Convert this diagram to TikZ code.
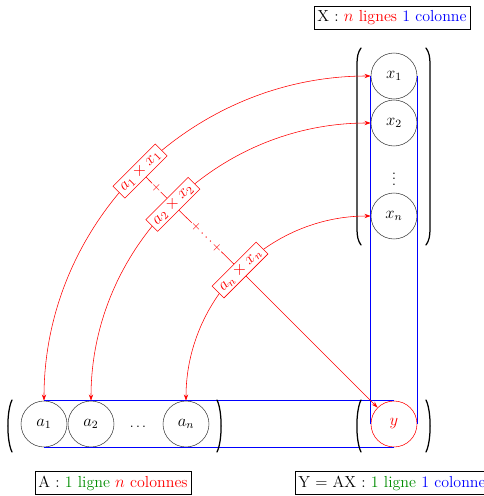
\documentclass[tikz,border=0pt]{standalone}
\usetikzlibrary{arrows.meta}
\definecolor{myblue}{RGB}{0,0,255}
\definecolor{myred}{RGB}{255,0,0}
\definecolor{mygreen}{RGB}{0,140,0}
\begin{document}
\begin{tikzpicture}[x=0.72pt,y=0.72pt,
 cell/.style={circle,draw=black!75,line width=0.4pt,minimum size=33.1pt,inner sep=0pt,font=\fontsize{11.5}{13}\selectfont},
 paren/.style={draw=black,line width=0.9pt,line cap=round},
 prod/.style={draw=myred,fill=white,text=myred,rotate=45,inner sep=1.6pt,inner xsep=3pt,font=\fontsize{12}{13}\selectfont},
 plus/.style={fill=white,text=myred,inner sep=0.6pt,rotate=-45,font=\small},
 arr/.style={draw=myred,line width=0.4pt,{Stealth[length=4.5pt,width=3pt]}-{Stealth[length=4.5pt,width=3pt]}},
 blueline/.style={color=myblue,line width=0.8pt},
 lbl/.style={draw=black,line width=0.5pt,inner sep=3pt,inner xsep=2.5pt,font=\fontsize{11.5}{14}\selectfont}]
\useasboundingbox (0,0) rectangle (484,496);
% column X
\node[cell] (x1) at (394,420) {$x_1$};
\node[cell] (x2) at (394,373) {$x_2$};
\node (xd) at (394,321) {$\vdots$};
\node[cell] (xn) at (394,280) {$x_n$};
% row A
\node[cell] (a1) at (44,72) {$a_1$};
\node[cell] (a2) at (91,72) {$a_2$};
\node (ad) at (138,69) {$\dots$};
\node[cell] (an) at (186,72) {$a_n$};
% Y
\node[cell,draw=myred,text=myred] (y) at (394,72) {$y$};
% blue guide lines
\draw[blueline] (x1.west) -- (y.west) (x1.east) -- (y.east)
  (a1.north) -- (y.north) (a1.south) -- (y.south);
% parentheses column
\draw[paren] (361,448) .. controls (358,444) and (357,439) .. (357,432) -- (357,267) .. controls (357,260) and (358,255) .. (361,251);
\draw[paren] (426,448) .. controls (429,444) and (430,439) .. (430,432) -- (430,267) .. controls (430,260) and (429,255) .. (426,251);
% parentheses row A
\draw[paren] (12,96) .. controls (6.5,85) and (6.5,55) .. (12,44);
\draw[paren] (217,96) .. controls (222.5,85) and (222.5,55) .. (217,44);
% parentheses Y
\draw[paren] (361,96) .. controls (355.5,85) and (355.5,55) .. (361,44);
\draw[paren] (426,96) .. controls (431.5,85) and (431.5,55) .. (426,44);
% arcs
\draw[arr] (a1.north) .. controls +(0,179.5) and +(-179.5,0) .. (x1.west) node[prod,pos=0.5] (p1) {$a_1\times x_1$};
\draw[arr] (a2.north) .. controls +(0,153.5) and +(-154.6,0) .. (x2.west) node[prod,pos=0.5] (p2) {$a_2\times x_2$};
\draw[arr] (an.north) .. controls +(0,102.2) and +(-102.2,0) .. (xn.west) node[prod,pos=0.5] (p3) {$a_n\times x_n$};
% diagonal
\draw[draw=myred,line width=0.4pt] (p1) -- node[plus] {$+$} (p2);
\draw[draw=myred,line width=0.4pt] (p2) -- node[plus] {$+\cdots+$} (p3);
\draw[draw=myred,line width=0.4pt,-{Stealth[length=4.5pt,width=3pt]}] (p3) -- (y.135);
% labels
\node[lbl] (lx) at (392,478) {X : \textcolor{myred}{$n$ lignes} \textcolor{myblue}{1 colonne}};
\node[lbl] (la) at (113,13) {A : \textcolor{mygreen}{1 ligne} \textcolor{myred}{$n$ colonnes}};
\node[lbl] (ly) at (392,13) {Y = AX : \textcolor{mygreen}{1 ligne} \textcolor{myblue}{1 colonne}};
\end{tikzpicture}
\end{document}
